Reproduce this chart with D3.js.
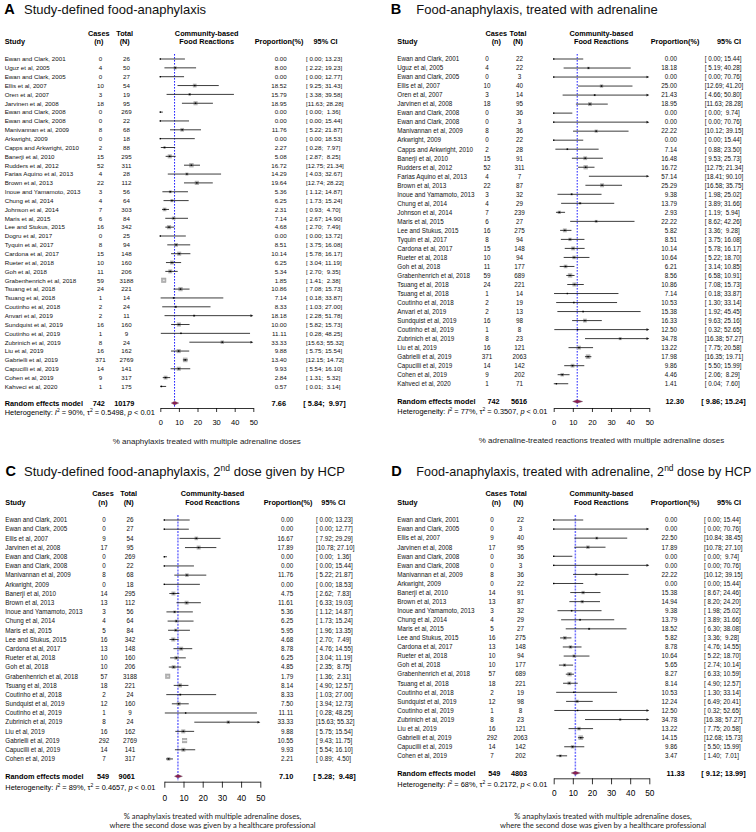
<!DOCTYPE html>
<html><head><meta charset="utf-8">
<script src="https://cdn.jsdelivr.net/npm/d3@7"></script>
<style>
body{margin:0;background:#fff;}
svg text{font-family:"Liberation Sans",Arial,Helvetica,sans-serif;white-space:pre;}
</style></head><body>
<svg id="chart" width="756" height="832"></svg>
<script>
// ---------------- DATA ----------------
const studiesA = ["Ewan and Clark, 2001","Uguz et al, 2005","Ewan and Clark, 2005","Ellis et al, 2007","Oren et al, 2007","Jarvinen et al, 2008","Ewan and Clark, 2008","Ewan and Clark, 2008","Manivannan et al, 2009","Arkwright, 2009","Capps and Arkwright, 2010","Banerji et al, 2010","Rudders et al, 2012","Farias Aquino et al, 2013","Brown et al, 2013","Inoue and Yamamoto, 2013","Chung et al, 2014","Johnson et al, 2014","Maris et al, 2015","Lee and Stukus, 2015","Dogru et al, 2017","Tyquin et al, 2017","Cardona et al, 2017","Rueter et al, 2018","Goh et al, 2018","Grabenhenrich et al, 2018","Tsuang et al, 2018","Tsuang et al, 2018","Coutinho et al, 2018","Anvari et al, 2019","Sundquist et al, 2019","Coutinho et al, 2019","Zubrinich et al, 2019","Liu et al, 2019","Gabrielli et al, 2019","Capucilli et al, 2019","Cohen et al, 2019","Kahveci et al, 2020"];
const casesA = [0,4,0,10,3,18,0,0,8,0,2,15,52,4,22,3,4,7,6,16,0,8,15,10,11,59,24,1,2,2,16,1,8,16,371,14,9,1];
const totalsA = [26,50,27,54,19,95,269,22,68,18,88,295,311,28,112,56,64,303,84,342,25,94,148,160,206,3188,221,14,24,11,160,9,24,162,2769,141,317,175];
const propA = [0.00,8.00,0.00,18.52,15.79,18.95,0.00,0.00,11.76,0.00,2.27,5.08,16.72,14.29,19.64,5.36,6.25,2.31,7.14,4.68,0.00,8.51,10.14,6.25,5.34,1.85,10.86,7.14,8.33,18.18,10.00,11.11,33.33,9.88,13.40,9.93,2.84,0.57];
const lowA = [0.00,2.22,0.00,9.25,3.38,11.63,0.00,0.00,5.22,0.00,0.28,2.87,12.75,4.03,12.74,1.12,1.73,0.93,2.67,2.70,0.00,3.75,5.78,3.04,2.70,1.41,7.08,0.18,1.03,2.28,5.82,0.28,15.63,5.75,12.15,5.54,1.31,0.01];
const highA = [13.23,19.23,12.77,31.43,39.58,28.28,1.36,15.44,21.87,18.53,7.97,8.25,21.34,32.67,28.22,14.87,15.24,4.70,14.90,7.49,13.72,16.08,16.17,11.19,9.35,2.38,15.73,33.87,27.00,51.78,15.73,48.25,55.32,15.54,14.72,16.10,5.32,3.14];

const studiesB = ["Ewan and Clark, 2001","Uguz et al, 2005","Ewan and Clark, 2005","Ellis et al, 2007","Oren et al, 2007","Jarvinen et al, 2008","Ewan and Clark, 2008","Ewan and Clark, 2008","Manivannan et al, 2009","Arkwright, 2009","Capps and Arkwright, 2010","Banerji et al, 2010","Rudders et al, 2012","Farias Aquino et al, 2013","Brown et al, 2013","Inoue and Yamamoto, 2013","Chung et al, 2014","Johnson et al, 2014","Maris et al, 2015","Lee and Stukus, 2015","Tyquin et al, 2017","Cardona et al, 2017","Rueter et al, 2018","Goh et al, 2018","Grabenhenrich et al, 2018","Tsuang et al, 2018","Tsuang et al, 2018","Coutinho et al, 2018","Anvari et al, 2019","Sundquist et al, 2019","Coutinho et al, 2019","Zubrinich et al, 2019","Liu et al, 2019","Gabrielli et al, 2019","Capucilli et al, 2019","Cohen et al, 2019","Kahveci et al, 2020"];
const casesB = [0,4,0,10,3,18,0,0,8,0,2,15,52,4,22,3,4,7,6,16,8,15,10,11,59,24,1,2,2,16,1,8,16,371,14,9,1];
const totalsB = [22,22,3,40,14,95,36,3,36,22,28,91,311,7,87,32,29,239,27,275,94,148,94,177,689,221,14,19,13,98,8,23,121,2063,142,202,71];
const propB = [0.00,18.18,0.00,25.00,21.43,18.95,0.00,0.00,22.22,0.00,7.14,16.48,16.72,57.14,25.29,9.38,13.79,2.93,22.22,5.82,8.51,10.14,10.64,6.21,8.56,10.86,7.14,10.53,15.38,16.33,12.50,34.78,13.22,17.98,9.86,4.46,1.41];
const lowB = [0.00,5.19,0.00,12.69,4.66,11.63,0.00,0.00,10.12,0.00,0.88,9.53,12.75,18.41,16.58,1.98,3.89,1.19,8.62,3.36,3.75,5.78,5.22,3.14,6.58,7.08,0.18,1.30,1.92,9.63,0.32,16.38,7.75,16.35,5.50,2.06,0.04];
const highB = [15.44,40.28,70.76,41.20,50.80,28.28,9.74,70.76,39.15,15.44,23.50,25.73,21.34,90.10,35.75,25.02,31.66,5.94,42.26,9.28,16.08,16.17,18.70,10.85,10.91,15.73,33.87,33.14,45.45,25.16,52.65,57.27,20.58,19.71,15.99,8.29,7.60];

const studiesC = ["Ewan and Clark, 2001","Ewan and Clark, 2005","Ellis et al, 2007","Jarvinen et al, 2008","Ewan and Clark, 2008","Ewan and Clark, 2008","Manivannan et al, 2009","Arkwright, 2009","Banerji et al, 2010","Brown et al, 2013","Inoue and Yamamoto, 2013","Chung et al, 2014","Maris et al, 2015","Lee and Stukus, 2015","Cardona et al, 2017","Rueter et al, 2018","Goh et al, 2018","Grabenhenrich et al, 2018","Tsuang et al, 2018","Coutinho et al, 2018","Sundquist et al, 2019","Coutinho et al, 2019","Zubrinich et al, 2019","Liu et al, 2019","Gabrielli et al, 2019","Capucilli et al, 2019","Cohen et al, 2019"];
const casesC = [0,0,9,17,0,0,8,0,14,13,3,4,5,16,13,10,10,57,18,2,12,1,8,16,292,14,7];
const totalsC = [26,27,54,95,269,22,68,18,295,112,56,64,84,342,148,160,206,3188,221,24,160,9,24,162,2769,141,317];
const propC = [0.00,0.00,16.67,17.89,0.00,0.00,11.76,0.00,4.75,11.61,5.36,6.25,5.95,4.68,8.78,6.25,4.85,1.79,8.14,8.33,7.50,11.11,33.33,9.88,10.55,9.93,2.21];
const lowC = [0.00,0.00,7.92,10.78,0.00,0.00,5.22,0.00,2.62,6.33,1.12,1.73,1.96,2.70,4.76,3.04,2.35,1.36,4.90,1.03,3.94,0.28,15.63,5.75,9.43,5.54,0.89];
const highC = [13.23,12.77,29.29,27.10,1.36,15.44,21.87,18.53,7.83,19.03,14.87,15.24,13.35,7.49,14.55,11.19,8.75,2.31,12.57,27.00,12.73,48.25,55.32,15.54,11.75,16.10,4.50];

const studiesD = ["Ewan and Clark, 2001","Ewan and Clark, 2005","Ellis et al, 2007","Jarvinen et al, 2008","Ewan and Clark, 2008","Ewan and Clark, 2008","Manivannan et al, 2009","Arkwright, 2009","Banerji et al, 2010","Brown et al, 2013","Inoue and Yamamoto, 2013","Chung et al, 2014","Maris et al, 2015","Lee and Stukus, 2015","Cardona et al, 2017","Rueter et al, 2018","Goh et al, 2018","Grabenhenrich et al, 2018","Tsuang et al, 2018","Coutinho et al, 2018","Sundquist et al, 2019","Coutinho et al, 2019","Zubrinich et al, 2019","Liu et al, 2019","Gabrielli et al, 2019","Capucilli et al, 2019","Cohen et al, 2019"];
const casesD = [0,0,9,17,0,0,8,0,14,13,3,4,5,16,13,10,10,57,18,2,12,1,8,16,292,14,7];
const totalsD = [22,3,40,95,36,3,36,22,91,87,32,29,27,275,148,94,177,689,221,19,98,8,23,121,2063,142,202];
const propD = [0.00,0.00,22.50,17.89,0.00,0.00,22.22,0.00,15.38,14.94,9.38,13.79,18.52,5.82,8.78,10.64,5.65,8.27,8.14,10.53,12.24,12.50,34.78,13.22,14.15,9.86,3.47];
const lowD = [0.00,0.00,10.84,10.78,0.00,0.00,10.12,0.00,8.67,8.20,1.98,3.89,6.30,3.36,4.76,5.22,2.74,6.33,4.90,1.30,6.49,0.32,16.38,7.75,12.68,5.50,1.40];
const highD = [15.44,70.76,38.45,27.10,9.74,70.76,39.15,15.44,24.46,24.20,25.02,31.66,38.08,9.28,14.55,18.70,10.14,10.59,12.57,33.14,20.41,52.65,57.27,20.58,15.73,15.99,7.01];

const summaryCases = [742, 742, 549, 549];
const summaryTotals = [10179, 5616, 9061, 4803];
const summaryProp = [7.66, 12.30, 7.10, 11.33];
const summaryLow = [5.84, 9.86, 5.28, 9.12];
const summaryHigh = [9.97, 15.24, 9.48, 13.99];
const hetI2 = [90, 77, 89, 68];
const hetTau2 = [0.5498, 0.3507, 0.4657, 0.2172];
const axisTicks = [0, 10, 20, 30, 40, 50];
const panelLetters = ["A", "B", "C", "D"];
const panelTitles = [
  ["Study-defined food-anaphylaxis"],
  ["Food-anaphylaxis, treated with adrenaline"],
  ["Study-defined food-anaphylaxis, 2", "nd", " dose given by HCP"],
  ["Food-anaphylaxis, treated with adrenaline, 2", "nd", " dose by HCP"]
];
const axisLabels = [
  ["% anaphylaxis treated with multiple adrenaline doses"],
  ["% adrenaline-treated reactions treated with multiple adrenaline doses"],
  ["% anaphylaxis treated with multiple adrenaline doses,", "where the second dose was given by a healthcare professional"],
  ["% anaphylaxis treated with multiple adrenaline doses,", "where the second dose was given by a healthcare professional"]
];

// ---------------- LAYOUT ----------------
const layouts = [
  {letterX:4.3,titleX:24,titleY:14.3,titleFont:13,h1:35.5,h2:43.5,studyX:4.7,casesH:98.8,totalH:124.7,commH:206.7,propH:279,ciH:325.5,
   casesX:100.5,totalX:126.5,propX:286.7,ciX:306,sumCasesX:98.8,sumTotalX:124.3,sumPropX:286,sumCiX:303.3,
   row0:59,step:8.85,reY:403.1,hetY:414.9,axisY:408,tickLen:4,tickPad:7.7,tickFont:7.5,x0:160.3,x50:253.3,
   axisLabelX:206.8,axisLabelY:[444],labelFont:8,labelFamily:'"Liberation Sans",Arial,sans-serif',
   refColor:"#1f1fff",refWidth:1,refDash:"1.6,1.4",rowFont:6.2},
  {letterX:390.8,titleX:416.3,titleY:14.3,titleFont:13,h1:35.5,h2:43.5,studyX:397.3,casesH:496.3,totalH:518,commH:601.3,propH:675,ciH:729,
   casesX:487,totalX:519.5,propX:677,ciX:704.7,sumCasesX:493.5,sumTotalX:519,sumPropX:684,sumCiX:701.3,
   row0:59,step:9.02,reY:401.5,hetY:414.3,axisY:408,tickLen:4,tickPad:7.7,tickFont:7.5,x0:553.7,x50:649.3,
   axisLabelX:601.5,axisLabelY:[443],labelFont:8,labelFamily:'"Liberation Sans",Arial,sans-serif',
   refColor:"#1f1fff",refWidth:1,refDash:"1.6,1.4",rowFont:6.3},
  {letterX:5.5,titleX:24,titleY:476.3,titleFont:13,h1:495.5,h2:504.5,studyX:5.3,casesH:103,totalH:128.7,commH:212.5,propH:288,ciH:333.3,
   casesX:104,totalX:130,propX:293.3,ciX:316,sumCasesX:103,sumTotalX:126.7,sumPropX:293.3,sumCiX:313.3,
   row0:520,step:9.19,reY:776.3,hetY:789.8,axisY:781.7,tickLen:6,tickPad:7,tickFont:8.3,x0:164.3,x50:260.3,
   axisLabelX:212.5,axisLabelY:[818.6,828],labelFont:7.6,labelFamily:'Lato,"Open Sans",sans-serif',
   refColor:"#7070ff",refWidth:1.5,refDash:"2,1.2",rowFont:6.3},
  {letterX:391.3,titleX:416.3,titleY:476.3,titleFont:12.6,h1:495.5,h2:504.5,studyX:397.3,casesH:496.3,totalH:518.3,commH:601.3,propH:675,ciH:729,
   casesX:492,totalX:520.5,propX:677.3,ciX:704,sumCasesX:494.3,sumTotalX:519,sumPropX:684.7,sumCiX:701.3,
   row0:520,step:9.07,reY:773,hetY:786.5,axisY:778.3,tickLen:6,tickPad:5.5,tickFont:8.3,x0:553.7,x50:649.3,
   axisLabelX:603,axisLabelY:[818.6,828],labelFont:7.6,labelFamily:'Lato,"Open Sans",sans-serif',
   refColor:"#7070ff",refWidth:1.5,refDash:"2,1.2",rowFont:6.3}
];

const panelData = [
  {studies:studiesA,cases:casesA,totals:totalsA,prop:propA,low:lowA,high:highA},
  {studies:studiesB,cases:casesB,totals:totalsB,prop:propB,low:lowB,high:highB},
  {studies:studiesC,cases:casesC,totals:totalsC,prop:propC,low:lowC,high:highC},
  {studies:studiesD,cases:casesD,totals:totalsD,prop:propD,low:lowD,high:highD}
];

const svg = d3.select("#chart");
const FONT = '"Liberation Sans",Arial,Helvetica,sans-serif';
const TXT = "#111";

function fmtCI(lo, hi) {
  return "[" + lo.toFixed(2).padStart(5, " ") + "; " + hi.toFixed(2).padStart(5, " ") + "]";
}

function drawPanel(k) {
  const L = layouts[k], D = panelData[k];
  const g = svg.append("g").attr("font-family", FONT).attr("fill", TXT);
  const n = D.studies.length;

  // title
  g.append("text").attr("x", L.letterX).attr("y", L.titleY).attr("font-size", 14.5)
    .attr("font-weight", "bold").attr("fill", "#000").text(panelLetters[k]);
  const t = g.append("text").attr("x", L.titleX).attr("y", L.titleY).attr("font-size", L.titleFont).attr("fill", "#111");
  const tp = panelTitles[k];
  t.append("tspan").text(tp[0]);
  if (tp.length > 1) {
    t.append("tspan").attr("font-size", 8.5).attr("dy", -5).text(tp[1]);
    t.append("tspan").attr("dy", 5).text(tp[2]);
  }

  // headers
  const hs = 7.3;
  const H = (x, y, s, a) => g.append("text").attr("x", x).attr("y", y).attr("font-size", hs)
    .attr("font-weight", "bold").attr("text-anchor", a).attr("fill", "#000").text(s);
  H(L.studyX, L.h2, "Study", "start");
  H(L.casesH, L.h1, "Cases", "middle"); H(L.casesH, L.h2, "(n)", "middle");
  H(L.totalH, L.h1, "Total", "middle"); H(L.totalH, L.h2, "(N)", "middle");
  H(L.commH, L.h1, "Community-based", "middle"); H(L.commH, L.h2, "Food Reactions", "middle");
  H(L.propH, L.h2, "Proportion(%)", "middle");
  H(L.ciH, L.h2, "95% CI", "middle");

  // scales
  const x = d3.scaleLinear().domain([0, 50]).range([L.x0, L.x50]);
  const y = d3.scaleLinear().domain([0, n - 1]).range([L.row0, L.row0 + (n - 1) * L.step]);

  const rows = D.studies.map((s, i) => {
    const c = D.cases[i], N = D.totals[i];
    const v = (c === 0 || c === N) ? 1 / (c + 0.5) + 1 / (N - c + 0.5) : 1 / c + 1 / (N - c);
    return {s, c, N, p: D.prop[i], lo: D.low[i], hi: D.high[i], w: 1 / (v + hetTau2[k]), i};
  });
  const maxW = d3.max(rows, r => r.w);
  const box = d3.scaleLinear().domain([0, maxW]).range([0, 4.6]);

  // reference (random effects) line
  g.append("line").attr("x1", x(summaryProp[k])).attr("x2", x(summaryProp[k]))
    .attr("y1", L.row0 - 5).attr("y2", L.axisY - 1)
    .attr("stroke", L.refColor).attr("stroke-width", L.refWidth).attr("stroke-dasharray", L.refDash);

  // text columns
  const rf = L.rowFont;
  const rowG = g.append("g").attr("font-size", rf);
  rows.forEach(r => {
    const yy = y(r.i) + 2.3;
    rowG.append("text").attr("x", L.studyX).attr("y", yy).text(r.s);
    rowG.append("text").attr("x", L.casesX).attr("y", yy).attr("text-anchor", "middle").text(r.c);
    rowG.append("text").attr("x", L.totalX).attr("y", yy).attr("text-anchor", "middle").text(r.N);
    rowG.append("text").attr("x", L.propX).attr("y", yy).attr("text-anchor", "end").text(r.p.toFixed(2));
    rowG.append("text").attr("x", L.ciX).attr("y", yy).attr("xml:space", "preserve").text(fmtCI(r.lo, r.hi));
  });

  // marks
  const mg = g.append("g");
  rows.forEach(r => {
    const yy = y(r.i);
    const s = box(r.w);
    const xl = x(Math.max(0, r.lo)), xh = x(Math.min(50, r.hi));
    const inside = (xh - xl) < s && r.p <= 50;
    if (r.p <= 50) {
      mg.append("rect").attr("x", x(r.p) - s / 2).attr("y", yy - s / 2).attr("width", s).attr("height", s)
        .attr("fill", "#b3b3b3").attr("stroke", inside ? "#9a9a9a" : "none").attr("stroke-width", 0.5);
    }
    mg.append("line").attr("x1", xl).attr("x2", r.hi > 50 ? xh - 1.5 : xh).attr("y1", yy).attr("y2", yy)
      .attr("stroke", inside ? "#ffffff" : "#1a1a1a").attr("stroke-width", 0.85);
    if (r.p <= 50 && !inside) {
      mg.append("rect").attr("x", x(r.p) - 0.7).attr("y", yy - 0.7).attr("width", 1.4).attr("height", 1.4).attr("fill", "#000");
    }
    if (r.hi > 50) {
      mg.append("path").attr("d", `M${xh},${yy}L${xh - 2.8},${yy - 1.3}L${xh - 2.8},${yy + 1.3}Z`).attr("fill", "#1a1a1a");
    }
  });

  // random effects row
  const ry = L.reY;
  const bf = 7.3;
  const B = (xx, s, a, f) => g.append("text").attr("x", xx).attr("y", ry + 2.5).attr("font-size", f || bf)
    .attr("font-weight", "bold").attr("text-anchor", a).attr("fill", "#000").attr("xml:space", "preserve").text(s);
  B(L.studyX, "Random effects model", "start");
  B(L.sumCasesX, summaryCases[k], "middle");
  B(L.sumTotalX, summaryTotals[k], "middle");
  B(L.sumPropX, summaryProp[k].toFixed(2), "end", 7.4);
  B(L.sumCiX, fmtCI(summaryLow[k], summaryHigh[k]), "start", 7.4);
  const dl = x(summaryLow[k]), dp = x(summaryProp[k]), dh = x(summaryHigh[k]);
  g.append("path").attr("d", `M${dl},${ry}L${dp},${ry - 1.8}L${dh},${ry}L${dp},${ry + 1.8}Z`)
    .attr("fill", "#8b1d52").attr("stroke", "#5a5a5a").attr("stroke-width", 0.3);

  // heterogeneity
  const h = g.append("text").attr("x", L.studyX).attr("y", L.hetY).attr("font-size", 7.4).attr("fill", "#000");
  h.append("tspan").text("Heterogeneity: ");
  h.append("tspan").attr("font-style", "italic").text("I");
  h.append("tspan").attr("font-size", 5).attr("dy", -3).text("2");
  h.append("tspan").attr("dy", 3).text(` = ${hetI2[k]}%, \u03C4`);
  h.append("tspan").attr("font-size", 5).attr("dy", -3).text("2");
  h.append("tspan").attr("dy", 3).text(` = ${hetTau2[k].toFixed(4)}, `);
  h.append("tspan").attr("font-style", "italic").text("p");
  h.append("tspan").text(" < 0.01");

  // axis
  const ax = d3.axisBottom(x).tickValues(axisTicks).tickSize(L.tickLen).tickSizeOuter(0).tickPadding(L.tickPad);
  const axg = svg.append("g").attr("transform", `translate(0,${L.axisY})`).call(ax);
  axg.attr("font-family", FONT).attr("font-size", L.tickFont);
  axg.select(".domain").attr("stroke", "#000").attr("stroke-width", 0.8);
  axg.selectAll(".tick line").attr("stroke", "#000").attr("stroke-width", 0.8);
  axg.selectAll(".tick text").attr("fill", "#000");

  // axis label
  axisLabels[k].forEach((s, j) => {
    svg.append("text").attr("x", L.axisLabelX).attr("y", L.axisLabelY[j]).attr("text-anchor", "middle")
      .attr("font-size", L.labelFont).attr("fill", "#222").style("font-family", L.labelFamily).text(s);
  });
}

[0, 1, 2, 3].forEach(drawPanel);
</script>
</body></html>
